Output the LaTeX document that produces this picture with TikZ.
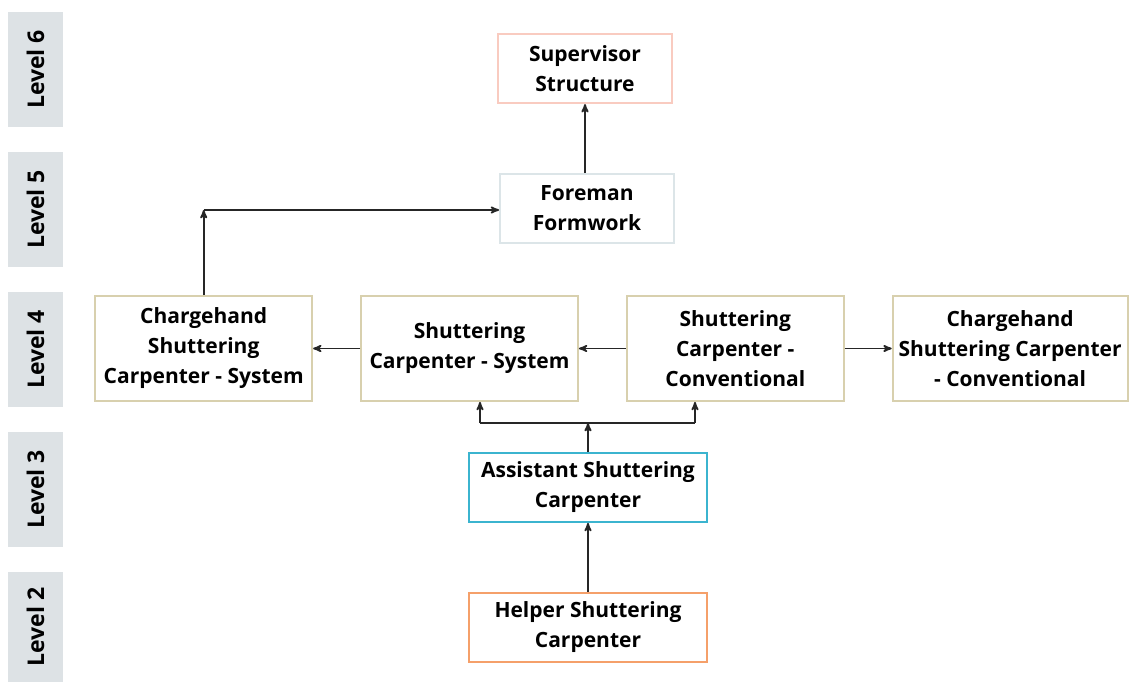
\documentclass[tikz,border=0pt]{standalone}
\usepackage{fontspec}
\setmainfont{Open Sans}
\usetikzlibrary{arrows,positioning,calc}
\definecolor{levelgray}{HTML}{DDE2E5}
\definecolor{khaki}{HTML}{D8D0AE}
\definecolor{salmon}{HTML}{F9CBC0}
\definecolor{paleblue}{HTML}{DCE5E8}
\definecolor{cyanline}{HTML}{3BB4CF}
\definecolor{orangeline}{HTML}{F5A06A}
\begin{document}
\begin{tikzpicture}[
    x=1pt,y=-1pt,>=stealth',
    post/.style={rectangle,draw,line width=1.8pt,align=center,inner sep=2pt,
      font=\fontsize{21}{30}\selectfont\bfseries},
    level/.style={fill=levelgray,minimum width=55pt,inner sep=0pt},
    link/.style={->,line width=1.8pt,black!85}]
    \useasboundingbox (0,0) rectangle (1130,682);
    % level bars
    \foreach \n/\y/\h in {6/69.5/115,5/209.5/115,4/349.5/115,3/489.5/115,2/627/110} {
      \node[level,minimum height=\h pt] (L\n) at (35.5,\y) {};
      \node[rotate=90,font=\fontsize{23}{25}\selectfont\bfseries] at (L\n) {Level \n};
    }
    % boxes
    \node[post,draw=paleblue,minimum width=174pt,minimum height=69pt] (FM) at (587,208.5) {Foreman\\Formwork};
    \node[post,draw=salmon,minimum width=174pt,minimum height=69pt] (SV) [above=69pt of FM.north,anchor=south,xshift=-2pt] {Supervisor\\Structure};
    \node[post,draw=khaki,minimum width=217pt,minimum height=105pt] (SS) at (469.5,348.5) {Shuttering\\Carpenter - System};
    \node[post,draw=khaki,minimum width=217pt,minimum height=105pt] (CS) [left=47pt of SS] {Chargehand\\Shuttering\\Carpenter - System};
    \node[post,draw=khaki,minimum width=217pt,minimum height=105pt] (SC) [right=47pt of SS] {Shuttering\\Carpenter -\\Conventional};
    \node[post,draw=khaki,minimum width=235pt,minimum height=105pt] (CC) [right=47pt of SC] {Chargehand\\Shuttering Carpenter\\- Conventional};
    \node[post,draw=cyanline,minimum width=238pt,minimum height=69pt] (AS) at (588,487.5) {Assistant Shuttering\\Carpenter};
    \node[post,draw=orangeline,minimum width=238pt,minimum height=69pt] (HP) [below=69pt of AS] {Helper Shuttering\\Carpenter};
    % connectors
    \coordinate (bend) at (CS.north |- 0,210);
    \coordinate (join) at (AS.north |- 0,423);
    \coordinate (jl) at (480,423);
    \coordinate (jr) at (695,423);
    \draw[link] (FM.north -| SV.south) -- (SV.south);
    \draw[link] (CS.north) -- (bend);
    \draw[link] (bend) -- (FM.west |- bend);
    \draw[link] (SC.west) -- (SS.east);
    \draw[link] (SS.west) -- (CS.east);
    \draw[link] (SC.east) -- (CC.west);
    \draw[link] (HP.north) -- (AS.south);
    \draw[link] (AS.north) -- (join);
    \draw[line width=1.8pt,black!85] (jl) -- (jr);
    \draw[link] (jl) -- (jl |- SS.south);
    \draw[link] (jr) -- (jr |- SC.south);
  \end{tikzpicture}
\end{document}
